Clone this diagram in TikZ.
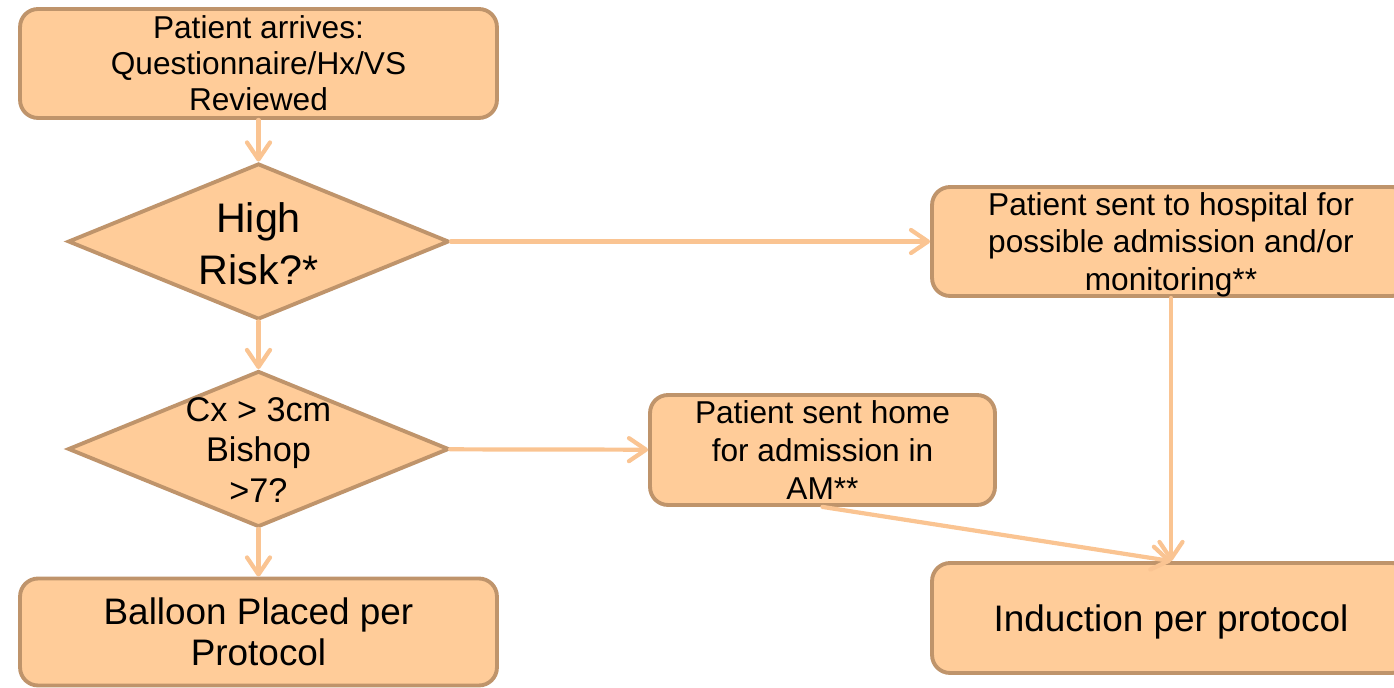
\documentclass[tikz,border=0pt]{standalone}
\usepackage{fontspec}
\setmainfont{Liberation Sans}
\usetikzlibrary{shapes.geometric,arrows.meta}

\definecolor{boxfill}{RGB}{255,204,153}
\definecolor{boxline}{RGB}{191,148,107}
\definecolor{flowline}{RGB}{250,196,146}

\tikzset{
  box/.style={draw=boxline, fill=boxfill, line width=2.2pt, rounded corners=0.36cm,
    align=center, inner sep=0pt, minimum height=2.18cm},
  decision/.style={draw=boxline, fill=boxfill, line width=2.2pt, diamond, inner sep=0pt,
    minimum width=7.62cm, minimum height=3.12cm},
  small/.style={font=\fontsize{18}{21.6}\selectfont},
  flow/.style={draw=flowline, line width=2.4pt, line cap=round,
    -{Straight Barb[length=3.4mm,width=4.6mm,round]}}
}

\begin{document}
\begin{tikzpicture}[x=0.02cm,y=-0.02cm]
  \useasboundingbox (0,0) rectangle (1394,688);
  \clip (0,0) rectangle (1394,688);
  \draw
    (258.5,63.5) node[box, font=\fontsize{18}{20.5}\selectfont, minimum width=9.54cm] (arrive)
      {Patient arrives:\\Questionnaire/Hx/VS\\Reviewed}
    (258.5,241.5) node[decision] (risk){}
    (258.5,449) node[decision] (cervix){}
    (258.5,632) node[box, minimum width=9.54cm, minimum height=2.14cm, text depth=0pt,
      font=\fontsize{21}{23.3}\selectfont] (balloon) {Balloon Placed per\\Protocol}
    (1171,241.5) node[box, small, minimum width=9.56cm, text depth=0pt] (hospital)
      {Patient sent to hospital for\\possible admission and/or\\monitoring**}
    (822.5,450) node[box, small, minimum width=6.9cm, minimum height=2.2cm] (home)
      {Patient sent home\\for admission in\\AM**}
    (1171,618) node[box, minimum width=9.56cm, minimum height=2.2cm, text depth=0pt,
      font=\fontsize{21}{25}\selectfont] (induction) {Induction per protocol};
  % text inside the two decisions
  \node[align=center, font=\fontsize{23.5}{29.6}\selectfont] (risktext) at (258.5,244) {High\\Risk?*};
  \node[align=center, font=\fontsize{19.5}{22.8}\selectfont] (cervixtext) at (258.5,450) {Cx > 3cm\\Bishop\\>7?};
  \begin{scope}[flow]
    \draw (arrive) to (risk);
    \draw (risk) to (cervix);
    \draw (cervix) to (balloon);
    \draw (risk) to (hospital);
    \draw (cervix) to (home);
    \draw (hospital) to (induction);
    \draw (home.south) to (induction.north);
  \end{scope}
\end{tikzpicture}
\end{document}
